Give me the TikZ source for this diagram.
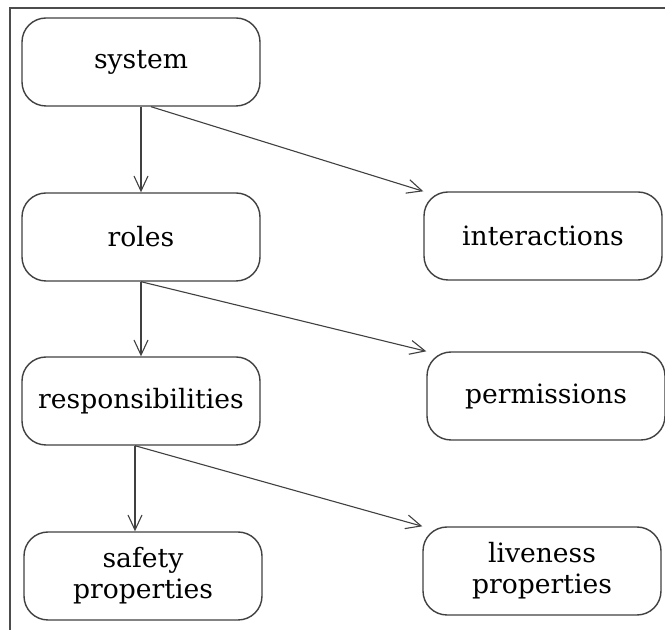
\documentclass[tikz,border=0pt]{standalone}
\usepackage{fontspec}
\setmainfont{DejaVu Serif}
\usetikzlibrary{positioning, arrows.meta}

\tikzset{
  rolebox/.style={rectangle, rounded corners=12pt, draw=black!75, line width=0.7pt,
    minimum width=119pt, minimum height=44pt, align=center,
    font=\fontsize{13.3}{15.5}\selectfont},
  flow/.style={draw=black!75, line width=0.55pt, -{Straight Barb[length=7.5pt, width=7pt]}}
}

\begin{document}
\begin{tikzpicture}[x=0.5pt, y=-0.5pt]
\useasboundingbox (0,0) rectangle (665,630);
% frame (left and top only)
\draw[black!70, line width=1pt] (10,630) -- (10,8) -- (665,8);

% left column
\node[rolebox] (sys) at (141,62) {system};
\node[rolebox] (roles) at (141,237) {roles};
\node[rolebox] (resp) at (141,401) {responsibilities};
\node[rolebox] (safety) at (143,576) {safety\\properties};

% right column
\node[rolebox] (inter) at (543,236) {interactions};
\node[rolebox] (perm) at (546,396) {permissions};
\node[rolebox] (live) at (542,571) {liveness\\properties};

% connectors
\draw[flow] (sys.south) -- (roles.north);
\draw[flow] ([xshift=5pt]sys.south) -- (inter.north west);
\draw[flow] (roles.south) -- (resp.north);
\draw[flow] (roles.south) -- (perm.north west);
\draw[flow] ([xshift=-3pt]resp.south) -- ([xshift=-4pt]safety.north);
\draw[flow] ([xshift=-3pt]resp.south) -- (live.north west);

\end{tikzpicture}
\end{document}
